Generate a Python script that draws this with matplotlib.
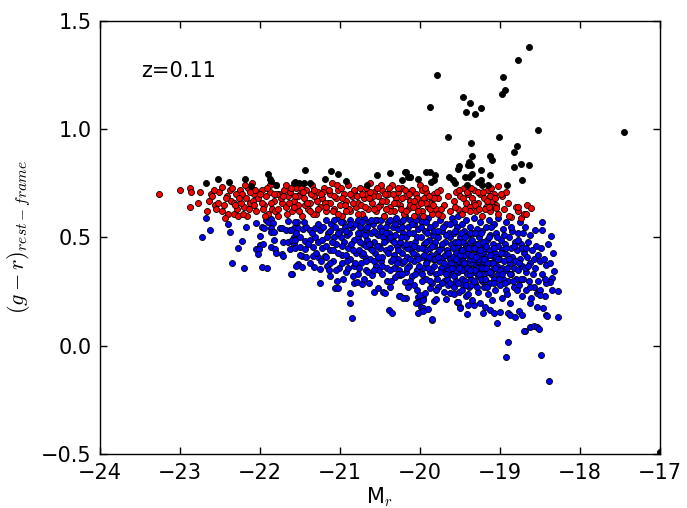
import matplotlib
matplotlib.use("Agg")
import matplotlib.pyplot as plt

plt.rcParams['mathtext.fontset'] = 'cm'
plt.rcParams['font.family'] = ['DejaVu Sans']

# ---- data (M_r, g-r) ----
black_points = [
    (-18.64, 1.38), (-18.77, 1.32), (-19.79, 1.25), (-18.96, 1.24), (-18.94, 1.18), (-18.98, 1.16),
    (-19.46, 1.15), (-19.38, 1.12), (-19.88, 1.10), (-19.43, 1.08), (-19.24, 1.095), (-19.31, 1.07),
    (-18.52, 0.995), (-19.65, 0.963), (-19.01, 0.963), (-19.36, 0.934), (-18.79, 0.922), (-18.82, 0.893),
    (-19.35, 0.876), (-19.12, 0.876), (-19.10, 0.856), (-19.39, 0.849), (-19.40, 0.833), (-19.36, 0.833),
    (-19.51, 0.83), (-19.53, 0.818), (-19.24, 0.812), (-18.83, 0.823), (-18.74, 0.838), (-18.64, 0.833),
    (-20.19, 0.80), (-19.93, 0.803), (-19.87, 0.803), (-20.15, 0.777), (-20.12, 0.78), (-19.81, 0.787),
    (-19.64, 0.781), (-19.44, 0.781), (-19.39, 0.777), (-19.35, 0.792), (-19.12, 0.79), (-19.24, 0.766),
    (-19.28, 0.758), (-19.59, 0.766), (-19.56, 0.75), (-19.83, 0.766), (-19.86, 0.758), (-18.91, 0.743),
    (-18.72, 0.766), (-19.23, 0.742), (-19.15, 0.742), (-19.41, 0.74),
    (-17.45, 0.986), (-17.0, -0.49),
    (-22.68, 0.752), (-22.52, 0.771), (-22.39, 0.756), (-22.19, 0.771), (-21.90, 0.792), (-21.88, 0.769),
    (-21.86, 0.762), (-22.11, 0.739), (-21.80, 0.742), (-21.56, 0.754),
    (-21.44, 0.81), (-21.11, 0.807), (-21.02, 0.792), (-21.57, 0.75), (-21.51, 0.75), (-21.45, 0.75),
    (-21.37, 0.752), (-21.19, 0.77), (-20.93, 0.76), (-20.66, 0.742), (-20.54, 0.787), (-20.38, 0.797),
    (-20.17, 0.80), (-20.12, 0.78), (-20.22, 0.765), (-20.03, 0.77),
]

red_points = [
    (-23.26, 0.70), (-23.00, 0.72), (-22.87, 0.73), (-22.86, 0.71), (-22.87, 0.64), (-22.75, 0.71), (-22.78, 0.66),
    (-22.61, 0.70), (-22.64, 0.67), (-22.56, 0.65), (-22.60, 0.69), (-22.66, 0.62),
    (-22.51, 0.71), (-22.47, 0.735), (-22.41, 0.69), (-22.36, 0.67), (-22.33, 0.66), (-22.40, 0.61), (-22.44, 0.59),
    (-22.33, 0.61), (-22.27, 0.60), (-22.45, 0.65),
    (-22.25, 0.72), (-22.22, 0.70), (-22.18, 0.68), (-22.15, 0.73), (-22.12, 0.66), (-22.20, 0.64), (-22.08, 0.70),
    (-22.05, 0.62), (-22.02, 0.68), (-22.10, 0.75), (-22.16, 0.60),
    (-21.98, 0.72), (-21.95, 0.65), (-21.92, 0.69), (-21.88, 0.71), (-21.85, 0.63), (-21.83, 0.67), (-21.80, 0.74),
    (-21.78, 0.60), (-21.76, 0.70), (-21.73, 0.66), (-21.90, 0.61), (-21.70, 0.72),
    (-21.68, 0.64), (-21.65, 0.69), (-21.62, 0.71), (-21.60, 0.62), (-21.57, 0.67), (-21.55, 0.73), (-21.52, 0.65),
    (-21.50, 0.70), (-21.47, 0.60), (-21.45, 0.68), (-21.42, 0.72), (-21.40, 0.63),
    (-21.38, 0.66), (-21.35, 0.74), (-21.32, 0.69), (-21.30, 0.61), (-21.27, 0.71), (-21.25, 0.64), (-21.22, 0.68),
    (-21.20, 0.73), (-21.17, 0.62), (-21.15, 0.66), (-21.12, 0.70), (-21.10, 0.75),
    (-21.07, 0.63), (-21.05, 0.68), (-21.02, 0.72), (-21.00, 0.65), (-20.97, 0.60), (-20.95, 0.70), (-20.92, 0.67),
    (-20.90, 0.74), (-20.87, 0.62), (-20.85, 0.69), (-20.82, 0.71), (-20.80, 0.64),
    (-20.77, 0.66), (-20.75, 0.73), (-20.72, 0.61), (-20.70, 0.68), (-20.67, 0.70), (-20.65, 0.63), (-20.62, 0.75),
    (-20.60, 0.66), (-20.57, 0.71), (-20.55, 0.62), (-20.52, 0.69), (-20.50, 0.65),
    (-20.47, 0.72), (-20.45, 0.60), (-20.42, 0.67), (-20.40, 0.70), (-20.37, 0.64), (-20.35, 0.74), (-20.32, 0.62),
    (-20.30, 0.68), (-20.27, 0.71), (-20.25, 0.65), (-20.22, 0.73), (-20.20, 0.61),
    (-20.17, 0.69), (-20.15, 0.63), (-20.12, 0.67), (-20.10, 0.72), (-20.07, 0.60), (-20.05, 0.70), (-20.02, 0.65),
    (-20.00, 0.74), (-19.97, 0.62), (-19.95, 0.68), (-19.92, 0.71), (-19.90, 0.64),
    (-19.87, 0.66), (-19.85, 0.61), (-19.82, 0.70), (-19.80, 0.63), (-19.77, 0.68), (-19.75, 0.72), (-19.72, 0.60),
    (-19.70, 0.65), (-19.65, 0.69), (-19.62, 0.62),
    (-19.58, 0.67), (-19.55, 0.71), (-19.52, 0.63), (-19.50, 0.69), (-19.47, 0.61), (-19.45, 0.73), (-19.42, 0.66),
    (-19.40, 0.70), (-19.37, 0.64), (-19.35, 0.68), (-19.32, 0.72), (-19.30, 0.62),
    (-19.27, 0.66), (-19.25, 0.70), (-19.22, 0.60), (-19.20, 0.68), (-19.17, 0.64), (-19.15, 0.72), (-19.12, 0.62),
    (-19.10, 0.67), (-19.07, 0.70), (-19.05, 0.65),
    (-19.02, 0.61), (-18.98, 0.69), (-18.95, 0.63), (-18.90, 0.66), (-18.80, 0.64), (-18.78, 0.62), (-18.74, 0.59),
    (-18.70, 0.61), (-18.66, 0.65),
    (-22.30, 0.70), (-22.24, 0.66), (-22.14, 0.63), (-22.06, 0.72), (-21.97, 0.66), (-21.87, 0.74), (-21.81, 0.62),
    (-21.74, 0.68), (-21.67, 0.74), (-21.58, 0.64), (-21.53, 0.69), (-21.44, 0.65), (-21.36, 0.70), (-21.28, 0.63),
    (-21.21, 0.71), (-21.13, 0.66), (-21.04, 0.74), (-20.98, 0.68), (-20.89, 0.63), (-20.83, 0.72), (-20.74, 0.65),
    (-20.68, 0.73), (-20.59, 0.69), (-20.53, 0.64), (-20.44, 0.70), (-20.38, 0.62), (-20.29, 0.66), (-20.19, 0.72),
    (-20.13, 0.65), (-20.04, 0.68), (-19.98, 0.72), (-19.93, 0.66), (-19.88, 0.63), (-19.83, 0.68), (-19.78, 0.61),
    (-19.46, 0.68), (-19.38, 0.62), (-19.33, 0.66), (-19.28, 0.71), (-19.19, 0.63), (-19.13, 0.69), (-19.08, 0.64),
    (-22.52, 0.66), (-22.48, 0.62), (-22.38, 0.72), (-22.29, 0.63), (-22.19, 0.74), (-22.09, 0.67), (-21.94, 0.60),
    (-21.79, 0.70), (-21.64, 0.66), (-21.49, 0.73), (-21.34, 0.61), (-21.19, 0.66), (-21.09, 0.62), (-20.94, 0.65),
    (-20.79, 0.69), (-20.64, 0.68), (-20.49, 0.74), (-20.34, 0.70), (-20.24, 0.63), (-20.09, 0.64), (-19.96, 0.60),
    (-18.93, 0.71), (-19.03, 0.737), (-18.99, 0.70), (-18.77, 0.642), (-18.68, 0.608), (-18.61, 0.635),
    (-18.86, 0.596), (-18.89, 0.60), (-19.05, 0.635), (-19.14, 0.64),
    (-22.58, 0.72), (-22.55, 0.63), (-22.43, 0.68), (-22.35, 0.73), (-22.31, 0.65), (-22.26, 0.68), (-22.21, 0.61),
    (-22.13, 0.71), (-22.07, 0.65), (-22.00, 0.70), (-21.96, 0.63), (-21.91, 0.73), (-21.86, 0.66), (-21.82, 0.70),
    (-21.77, 0.63), (-21.71, 0.69), (-21.66, 0.61), (-21.61, 0.73), (-21.56, 0.69), (-21.51, 0.62), (-21.46, 0.71),
    (-21.41, 0.66), (-21.37, 0.62), (-21.33, 0.72), (-21.29, 0.67), (-21.24, 0.70), (-21.18, 0.64), (-21.14, 0.72),
    (-21.08, 0.69), (-21.03, 0.61), (-20.99, 0.73), (-20.93, 0.62), (-20.88, 0.70), (-20.84, 0.66), (-20.78, 0.61),
    (-20.73, 0.70), (-20.69, 0.64), (-20.63, 0.71), (-20.58, 0.63), (-20.54, 0.73), (-20.48, 0.67), (-20.43, 0.63),
    (-20.39, 0.73), (-20.33, 0.66), (-20.28, 0.73), (-20.23, 0.68), (-20.18, 0.62), (-20.14, 0.70), (-20.08, 0.67),
    (-20.03, 0.62), (-19.99, 0.66), (-19.94, 0.73), (-19.89, 0.69), (-19.84, 0.65), (-19.79, 0.71), (-19.74, 0.63),
    (-19.56, 0.64), (-19.51, 0.72), (-19.44, 0.63), (-19.41, 0.71), (-19.36, 0.73), (-19.31, 0.65), (-19.26, 0.63),
    (-19.21, 0.71), (-19.16, 0.67), (-19.11, 0.73), (-19.06, 0.68),
]

blue_points = [
    (-22.67, 0.59), (-22.63, 0.535), (-22.72, 0.50), (-22.40, 0.562), (-22.37, 0.527), (-22.22, 0.485),
    (-22.18, 0.547), (-22.35, 0.38), (-22.20, 0.36), (-22.28, 0.45),
    (-22.05, 0.567), (-22.05, 0.448), (-22.00, 0.466), (-21.96, 0.468), (-22.01, 0.446), (-22.03, 0.424),
    (-21.98, 0.546), (-21.95, 0.545), (-22.00, 0.507), (-21.93, 0.58), (-21.90, 0.573), (-21.86, 0.585),
    (-21.84, 0.565), (-21.83, 0.489), (-21.86, 0.542), (-21.86, 0.527), (-21.83, 0.527), (-21.86, 0.455),
    (-21.81, 0.446), (-21.80, 0.427), (-21.73, 0.424), (-21.71, 0.415), (-21.98, 0.365), (-21.91, 0.358),
    (-21.60, 0.33), (-21.52, 0.378), (-21.75, 0.542), (-21.72, 0.545), (-21.67, 0.535), (-21.62, 0.535),
    (-21.58, 0.542), (-21.54, 0.573), (-21.71, 0.48), (-21.65, 0.48), (-21.60, 0.485), (-21.57, 0.468),
    (-21.63, 0.446), (-21.57, 0.50), (-21.65, 0.576),
    (-21.61, 0.535), (-21.56, 0.57), (-21.52, 0.545), (-21.46, 0.54), (-21.42, 0.55), (-21.37, 0.535),
    (-21.31, 0.545), (-21.25, 0.535), (-21.60, 0.49), (-21.56, 0.49), (-21.50, 0.50), (-21.44, 0.485),
    (-21.37, 0.49), (-21.31, 0.50), (-21.27, 0.48), (-21.22, 0.49), (-21.56, 0.45), (-21.50, 0.455),
    (-21.44, 0.445), (-21.34, 0.455), (-21.23, 0.45), (-21.18, 0.46), (-21.48, 0.415), (-21.42, 0.41),
    (-21.34, 0.415), (-21.27, 0.41), (-21.19, 0.415), (-21.55, 0.37), (-21.47, 0.365), (-21.33, 0.365),
    (-21.25, 0.355), (-21.16, 0.37), (-21.61, 0.33), (-21.25, 0.29), (-21.12, 0.32), (-21.04, 0.30),
    (-21.06, 0.265), (-20.88, 0.245), (-20.88, 0.20), (-20.85, 0.127), (-21.02, 0.266),
    (-21.18, 0.58), (-21.15, 0.52), (-21.13, 0.44), (-21.11, 0.56), (-21.09, 0.39), (-21.07, 0.50),
    (-21.05, 0.47), (-21.03, 0.59), (-21.01, 0.36), (-21.00, 0.53), (-20.98, 0.42), (-20.96, 0.57),
    (-20.95, 0.48), (-20.93, 0.34), (-20.91, 0.51), (-20.90, 0.45), (-20.88, 0.58), (-20.87, 0.40),
    (-20.85, 0.55), (-20.83, 0.37), (-20.82, 0.49), (-20.80, 0.43), (-21.17, 0.41), (-21.14, 0.35),
    (-21.10, 0.48), (-21.06, 0.55), (-21.02, 0.43), (-20.99, 0.50), (-20.97, 0.38), (-20.94, 0.55),
    (-20.92, 0.42), (-20.89, 0.52), (-20.86, 0.47), (-20.84, 0.32), (-20.81, 0.56), (-21.12, 0.53),
    (-21.08, 0.58), (-20.96, 0.31), (-20.90, 0.36), (-20.82, 0.29), (-20.79, 0.296), (-20.73, 0.286),
    (-20.78, 0.58), (-20.77, 0.50), (-20.76, 0.44), (-20.75, 0.55), (-20.74, 0.38), (-20.72, 0.52),
    (-20.71, 0.47), (-20.70, 0.59), (-20.69, 0.41), (-20.68, 0.35), (-20.67, 0.54), (-20.66, 0.49),
    (-20.65, 0.342), (-20.64, 0.57), (-20.63, 0.45), (-20.62, 0.40), (-20.61, 0.52), (-20.60, 0.327),
    (-20.59, 0.56), (-20.58, 0.25), (-20.57, 0.48), (-20.56, 0.43), (-20.55, 0.37), (-20.54, 0.58),
    (-20.53, 0.51), (-20.52, 0.266), (-20.51, 0.46), (-20.50, 0.55), (-20.49, 0.39), (-20.48, 0.33),
    (-20.47, 0.53), (-20.46, 0.25), (-20.45, 0.60), (-20.44, 0.245), (-20.43, 0.44), (-20.42, 0.49),
    (-20.41, 0.36), (-20.40, 0.57), (-20.77, 0.33), (-20.73, 0.42), (-20.70, 0.31), (-20.66, 0.55),
    (-20.62, 0.47), (-20.58, 0.39), (-20.55, 0.52), (-20.51, 0.35), (-20.47, 0.41), (-20.43, 0.55),
    (-20.41, 0.30), (-20.75, 0.48), (-20.64, 0.29), (-20.56, 0.58), (-20.50, 0.45), (-20.46, 0.50),
    (-20.68, 0.46),
    (-20.39, 0.166), (-20.35, 0.15), (-20.38, 0.273), (-20.31, 0.316), (-20.25, 0.327), (-20.19, 0.296),
    (-20.15, 0.273), (-20.25, 0.23), (-20.17, 0.222), (-20.26, 0.23), (-20.21, 0.22),
    (-20.39, 0.52), (-20.38, 0.45), (-20.37, 0.58), (-20.36, 0.39), (-20.35, 0.49), (-20.34, 0.55),
    (-20.33, 0.42), (-20.32, 0.36), (-20.31, 0.51), (-20.30, 0.59), (-20.29, 0.46), (-20.28, 0.40),
    (-20.27, 0.54), (-20.26, 0.35), (-20.25, 0.48), (-20.24, 0.57), (-20.23, 0.43), (-20.22, 0.38),
    (-20.21, 0.52), (-20.20, 0.46), (-20.19, 0.60), (-20.18, 0.34), (-20.17, 0.50), (-20.16, 0.41),
    (-20.15, 0.55), (-20.14, 0.37), (-20.13, 0.47), (-20.12, 0.58), (-20.11, 0.44), (-20.10, 0.32),
    (-20.09, 0.52), (-20.08, 0.39), (-20.07, 0.56), (-20.06, 0.48), (-20.05, 0.42), (-20.04, 0.35),
    (-20.03, 0.54), (-20.02, 0.45), (-20.01, 0.59), (-20.36, 0.30), (-20.28, 0.33), (-20.20, 0.39),
    (-20.13, 0.30), (-20.07, 0.28), (-20.33, 0.48), (-20.23, 0.55), (-20.16, 0.45), (-20.09, 0.43),
    (-20.04, 0.50),
    (-20.04, 0.258), (-20.02, 0.227), (-20.03, 0.204), (-19.99, 0.18), (-20.02, 0.153), (-19.96, 0.173),
    (-19.90, 0.169), (-19.85, 0.12), (-19.96, 0.22), (-19.88, 0.266), (-20.05, 0.197), (-19.96, 0.162),
    (-19.85, 0.122), (-19.96, 0.212), (-20.00, 0.235), (-19.94, 0.243), (-19.83, 0.209), (-19.80, 0.215),
    (-19.70, 0.25), (-19.63, 0.243), (-19.67, 0.216),
    (-19.99, 0.50), (-19.98, 0.41), (-19.97, 0.57), (-19.96, 0.36), (-19.95, 0.47), (-19.94, 0.53),
    (-19.93, 0.31), (-19.92, 0.44), (-19.91, 0.39), (-19.90, 0.59), (-19.89, 0.49), (-19.88, 0.34),
    (-19.87, 0.55), (-19.86, 0.42), (-19.85, 0.29), (-19.84, 0.51), (-19.83, 0.37), (-19.82, 0.46),
    (-19.81, 0.56), (-19.80, 0.33), (-19.79, 0.43), (-19.78, 0.50), (-19.77, 0.27), (-19.76, 0.39),
    (-19.75, 0.58), (-19.74, 0.45), (-19.73, 0.35), (-19.72, 0.53), (-19.71, 0.41), (-19.70, 0.30),
    (-19.69, 0.48), (-19.68, 0.56), (-19.67, 0.37), (-19.66, 0.44), (-19.65, 0.28), (-19.64, 0.52),
    (-19.63, 0.40), (-19.62, 0.33), (-19.61, 0.47), (-19.60, 0.59), (-19.98, 0.30), (-19.93, 0.38),
    (-19.88, 0.45), (-19.84, 0.40), (-19.79, 0.31), (-19.74, 0.36), (-19.69, 0.42), (-19.65, 0.35),
    (-19.62, 0.50), (-19.97, 0.45), (-19.91, 0.52), (-19.86, 0.35), (-19.81, 0.48), (-19.76, 0.44),
    (-19.71, 0.55), (-19.66, 0.31), (-19.61, 0.38),
    (-19.54, 0.204), (-19.50, 0.18), (-19.41, 0.146), (-19.40, 0.189), (-19.33, 0.189), (-19.25, 0.197),
    (-19.21, 0.15), (-19.50, 0.177), (-19.53, 0.204),
    (-19.59, 0.45), (-19.59, 0.33), (-19.58, 0.52), (-19.58, 0.27), (-19.57, 0.40), (-19.57, 0.57),
    (-19.56, 0.36), (-19.56, 0.48), (-19.55, 0.43), (-19.55, 0.30), (-19.54, 0.55), (-19.54, 0.38),
    (-19.53, 0.46), (-19.52, 0.34), (-19.52, 0.60), (-19.51, 0.41), (-19.51, 0.25), (-19.50, 0.50),
    (-19.49, 0.37), (-19.49, 0.44), (-19.48, 0.31), (-19.48, 0.56), (-19.47, 0.40), (-19.46, 0.48),
    (-19.46, 0.28), (-19.45, 0.35), (-19.45, 0.53), (-19.44, 0.42), (-19.43, 0.23), (-19.43, 0.46),
    (-19.42, 0.38), (-19.42, 0.58), (-19.41, 0.33), (-19.40, 0.51), (-19.40, 0.43), (-19.39, 0.27),
    (-19.39, 0.36), (-19.38, 0.48), (-19.37, 0.40), (-19.37, 0.55), (-19.36, 0.31), (-19.35, 0.45),
    (-19.35, 0.21), (-19.34, 0.38), (-19.34, 0.52), (-19.33, 0.34), (-19.32, 0.42), (-19.32, 0.59),
    (-19.31, 0.29), (-19.30, 0.47), (-19.30, 0.37), (-19.29, 0.54), (-19.28, 0.32), (-19.28, 0.44),
    (-19.27, 0.25), (-19.27, 0.39), (-19.26, 0.50), (-19.25, 0.35), (-19.25, 0.57), (-19.24, 0.41),
    (-19.23, 0.30), (-19.23, 0.46), (-19.22, 0.37), (-19.22, 0.53), (-19.21, 0.43), (-19.20, 0.33),
    (-19.20, 0.27), (-19.57, 0.32), (-19.53, 0.39), (-19.47, 0.35), (-19.44, 0.30), (-19.41, 0.45),
    (-19.38, 0.33), (-19.33, 0.40), (-19.29, 0.36), (-19.26, 0.43), (-19.24, 0.31), (-19.21, 0.39),
    (-19.55, 0.35), (-19.50, 0.42), (-19.46, 0.39), (-19.36, 0.42), (-19.31, 0.35), (-19.28, 0.40),
    (-19.19, 0.18), (-19.13, 0.166), (-19.08, 0.15), (-19.04, 0.104), (-19.00, 0.158), (-18.90, 0.15),
    (-18.88, 0.143), (-18.81, 0.132), (-18.90, 0.02), (-18.93, -0.05),
    (-19.19, 0.45), (-19.18, 0.36), (-19.18, 0.55), (-19.17, 0.30), (-19.17, 0.41), (-19.16, 0.49),
    (-19.15, 0.34), (-19.15, 0.24), (-19.14, 0.44), (-19.14, 0.58), (-19.13, 0.38), (-19.12, 0.29),
    (-19.12, 0.51), (-19.11, 0.42), (-19.10, 0.35), (-19.10, 0.21), (-19.09, 0.47), (-19.08, 0.39),
    (-19.08, 0.56), (-19.07, 0.31), (-19.06, 0.43), (-19.06, 0.26), (-19.05, 0.52), (-19.04, 0.37),
    (-19.03, 0.46), (-19.02, 0.33), (-19.02, 0.59), (-19.01, 0.40), (-19.00, 0.28), (-18.99, 0.49),
    (-18.98, 0.36), (-18.98, 0.22), (-18.97, 0.44), (-18.96, 0.54), (-18.96, 0.31), (-18.95, 0.39),
    (-18.94, 0.47), (-18.93, 0.26), (-18.93, 0.35), (-18.92, 0.57), (-18.91, 0.42), (-18.90, 0.30),
    (-18.89, 0.50), (-18.88, 0.38), (-18.87, 0.20), (-18.86, 0.45), (-18.86, 0.33), (-18.85, 0.53),
    (-18.84, 0.40), (-18.83, 0.27), (-18.82, 0.36), (-18.81, 0.48), (-18.80, 0.31), (-19.16, 0.38),
    (-19.11, 0.33), (-19.05, 0.41), (-19.00, 0.35), (-18.95, 0.43), (-18.91, 0.36), (-18.85, 0.41),
    (-18.76, 0.163), (-18.72, 0.143), (-18.69, 0.07), (-18.63, 0.089), (-18.58, 0.092), (-18.54, 0.086),
    (-18.51, 0.077), (-18.75, 0.573), (-18.63, 0.51), (-18.56, 0.535), (-18.55, 0.462), (-18.50, 0.393),
    (-18.54, 0.243), (-18.63, 0.197), (-18.54, 0.178), (-18.70, 0.07),
    (-18.79, 0.44), (-18.78, 0.35), (-18.77, 0.52), (-18.76, 0.28), (-18.75, 0.40), (-18.74, 0.47),
    (-18.73, 0.23), (-18.72, 0.37), (-18.71, 0.31), (-18.70, 0.43), (-18.69, 0.55), (-18.68, 0.34),
    (-18.67, 0.26), (-18.66, 0.41), (-18.65, 0.48), (-18.64, 0.30), (-18.62, 0.38), (-18.61, 0.22),
    (-18.60, 0.44), (-18.59, 0.33), (-18.58, 0.27), (-18.57, 0.40), (-18.56, 0.36), (-18.53, 0.30),
    (-18.52, 0.42), (-18.51, 0.25),
    (-18.47, 0.57), (-18.48, 0.535), (-18.36, 0.507), (-18.49, 0.453), (-18.34, 0.43), (-18.42, 0.373),
    (-18.38, 0.381), (-18.32, 0.345), (-18.35, 0.315), (-18.38, 0.296), (-18.42, 0.289), (-18.50, 0.258),
    (-18.28, 0.255), (-18.44, 0.23), (-18.46, 0.173), (-18.42, 0.143), (-18.28, 0.135), (-18.49, -0.043),
    (-18.39, -0.163), (-18.50, 0.235), (-18.35, 0.258), (-18.41, 0.14), (-18.47, 0.33), (-18.45, 0.40),
    (-18.40, 0.47), (-18.44, 0.31),
    (-20.99, 0.57), (-20.97, 0.46), (-20.93, 0.53), (-20.91, 0.39), (-20.87, 0.56), (-20.84, 0.44),
    (-20.81, 0.38), (-20.78, 0.52), (-20.76, 0.36), (-20.73, 0.57), (-20.71, 0.43), (-20.69, 0.51),
    (-20.67, 0.39), (-20.64, 0.47), (-20.61, 0.58), (-20.60, 0.44),
    (-20.58, 0.53), (-20.57, 0.35), (-20.54, 0.46), (-20.52, 0.41), (-20.49, 0.58), (-20.47, 0.37),
    (-20.45, 0.48), (-20.42, 0.52), (-20.40, 0.43), (-20.38, 0.35), (-20.37, 0.50), (-20.34, 0.40),
    (-20.31, 0.56), (-20.29, 0.38), (-20.27, 0.44), (-20.24, 0.50), (-20.22, 0.33), (-20.21, 0.58),
    (-20.18, 0.47), (-20.16, 0.36), (-20.14, 0.52), (-20.12, 0.40), (-20.10, 0.56), (-20.08, 0.46),
    (-20.06, 0.33), (-20.05, 0.58), (-20.03, 0.40), (-20.01, 0.37), (-19.99, 0.55), (-19.97, 0.33),
    (-19.95, 0.42), (-19.93, 0.57), (-19.92, 0.48), (-19.90, 0.36), (-19.89, 0.41), (-19.87, 0.30),
    (-19.85, 0.46), (-19.83, 0.53), (-19.81, 0.40),
    (-19.80, 0.26), (-19.78, 0.41), (-19.77, 0.53), (-19.75, 0.34), (-19.73, 0.47), (-19.72, 0.29),
    (-19.70, 0.38), (-19.68, 0.33), (-19.67, 0.51), (-19.65, 0.43), (-19.63, 0.29), (-19.62, 0.56),
    (-19.60, 0.36), (-19.59, 0.41), (-19.58, 0.24), (-19.56, 0.53), (-19.55, 0.40), (-19.53, 0.29),
    (-19.52, 0.48), (-19.51, 0.36), (-19.49, 0.52), (-19.48, 0.26), (-19.47, 0.44), (-19.45, 0.38),
    (-19.44, 0.50), (-19.42, 0.28), (-19.41, 0.36),
    (-19.40, 0.24), (-19.39, 0.45), (-19.38, 0.52), (-19.37, 0.35), (-19.36, 0.28), (-19.35, 0.49),
    (-19.33, 0.45), (-19.32, 0.30), (-19.31, 0.52), (-19.30, 0.41), (-19.29, 0.27), (-19.27, 0.47),
    (-19.26, 0.33), (-19.25, 0.44), (-19.24, 0.52), (-19.23, 0.36), (-19.21, 0.48), (-19.20, 0.40),
    (-19.19, 0.31), (-19.18, 0.46), (-19.17, 0.36), (-19.16, 0.27), (-19.14, 0.50), (-19.13, 0.42),
    (-19.12, 0.34), (-19.11, 0.55), (-19.09, 0.38), (-19.08, 0.29), (-19.07, 0.45), (-19.06, 0.36),
    (-19.04, 0.50), (-19.03, 0.40), (-19.01, 0.31),
    (-18.99, 0.43), (-18.97, 0.33), (-18.95, 0.51), (-18.94, 0.29), (-18.92, 0.45), (-18.91, 0.24),
    (-18.89, 0.40), (-18.88, 0.33), (-18.86, 0.55), (-18.84, 0.30), (-18.83, 0.46), (-18.81, 0.39),
    (-18.79, 0.26), (-18.78, 0.49), (-18.76, 0.38), (-18.74, 0.31), (-18.73, 0.45), (-18.71, 0.52),
    (-18.69, 0.36), (-18.67, 0.45), (-18.65, 0.37), (-18.63, 0.27),
    (-21.55, 0.52), (-21.50, 0.42), (-21.45, 0.57), (-21.40, 0.47), (-21.38, 0.38), (-21.35, 0.52),
    (-21.30, 0.43), (-21.28, 0.56), (-21.24, 0.39), (-21.21, 0.55), (-21.16, 0.50), (-21.13, 0.38),
    (-21.09, 0.44), (-21.05, 0.35), (-21.03, 0.52),
]

x_ticks = [-24, -23, -22, -21, -20, -19, -18, -17]
y_ticks = [-0.5, 0.0, 0.5, 1.0, 1.5]
redshift_label = "z=0.11"

fig = plt.figure(figsize=(6.87, 5.08), dpi=100)
ax = fig.add_axes([0.1456, 0.1057, 0.8151, 0.8537])

def draw(points, color):
    xs = [p[0] for p in points]
    ys = [p[1] for p in points]
    ax.scatter(xs, ys, s=19, c=color, edgecolors='black', linewidths=0.6)

draw(blue_points, '#0000ff')
draw(red_points, '#ff0000')
draw(black_points, '#000000')

ax.set_xlim(-24, -17)
ax.set_ylim(-0.5, 1.5)
ax.set_xticks(x_ticks)
ax.set_yticks(y_ticks)
ax.tick_params(direction='in', top=True, right=True, length=5, width=1, labelsize=15, pad=6)
for sp in ax.spines.values():
    sp.set_linewidth(1.0)

ax.set_xlabel('M$_r$', fontsize=15, labelpad=2)
ax.set_ylabel('$(g\u2212r)_{rest\u2212frame}$', fontsize=16, labelpad=6)
ax.text(0.073, 0.87, redshift_label, transform=ax.transAxes, fontsize=15, va='baseline')

fig.savefig('out.png', dpi=100, facecolor='white')
